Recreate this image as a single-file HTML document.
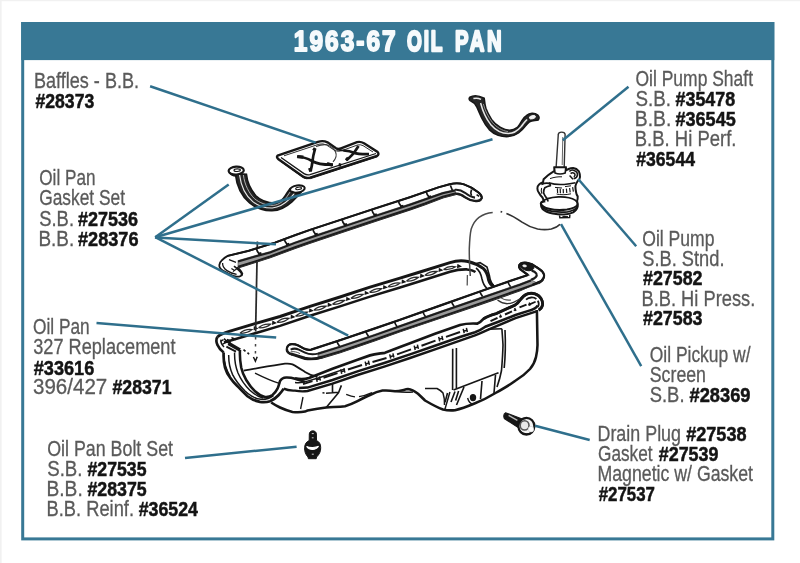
<!DOCTYPE html>
<html lang="en"><head><meta charset="utf-8"><title>1963-67 Oil Pan</title>
<style>
html,body{margin:0;padding:0;background:#fff;}
body{width:800px;height:563px;overflow:hidden;}
svg{display:block;filter:blur(0.55px);}
text{font-family:"Liberation Sans",Arial,sans-serif;}
.r{font-size:21.4px;fill:#5a5a5a;stroke:#5a5a5a;stroke-width:0.3px;}
.b{font-size:20.4px;fill:#141414;font-weight:bold;stroke:#141414;stroke-width:0.5px;}
.t{font-size:29.8px;font-weight:bold;fill:#f6fafc;stroke:#f6fafc;stroke-width:1.7px;stroke-linejoin:round;vector-effect:non-scaling-stroke;}
.ld{stroke:#2f6f8c;stroke-width:2.5;stroke-linecap:butt;fill:none;}
</style></head><body>
<svg width="800" height="563" viewBox="0 0 800 563">
<rect width="800" height="563" fill="#fff"/>
<rect x="0" y="0" width="800" height="1.2" fill="#f1f1f1"/><rect x="0" y="0" width="1.6" height="563" fill="#f1f1f1"/>
<rect x="22.7" y="23.5" width="750.1" height="515.4" fill="#fff" stroke="#387895" stroke-width="3.0"/>
<rect x="21.2" y="22" width="753.1" height="38.1" fill="#387895"/>
<text class="t" style="stroke-width:1.7px" transform="translate(293.80,51.2) scale(0.820,1)" x="0" y="0" textLength="124.15" lengthAdjust="spacing">1963-67</text>
<text class="t" style="stroke-width:2.1px" transform="translate(407.00,51.2) scale(0.640,1)" x="0" y="0" textLength="55.31" lengthAdjust="spacing">OIL</text>
<text class="t" style="stroke-width:2.0px" transform="translate(455.00,51.2) scale(0.680,1)" x="0" y="0" textLength="68.53" lengthAdjust="spacing">PAN</text>
<path d="M277.5,155.7 L318,141.8 Q323,140.3 327.5,142.3 L336,148.3 Q338.5,149.5 341,148.3 L357,142.2 Q360.5,141.3 364,143.3 L377.6,152 Q379.6,154.3 377,156 L310,177.6 Q305.5,178.6 302.5,176.2 L278.2,159 Q276.3,157 277.5,155.7 Z" fill="#fff" stroke="#161616" stroke-width="2.4" />
<path d="M281,157.5 L304,173.6 Q306.5,175.3 310,174.6 L376,153.5" fill="none" stroke="#161616" stroke-width="1.3" />
<path d="M284,155.8 L319,144.2 Q323,143.2 326.5,145 L335,150.6 Q338.5,152 342,150.6 L357.5,145 Q360.5,144.3 363,145.6 L373,152" fill="none" stroke="#161616" stroke-width="0.9" />
<path d="M297,156.5 Q305,157 312,161 T333,164.7 M315,149 Q313,156 312.5,161 T310.5,171.5" fill="none" stroke="#161616" stroke-width="2.7" />
<path d="M343.5,150.5 Q350,151 354,152.7 T369,154.2 M358.5,146 Q356,150 354,152.7 T346.5,160.2" fill="none" stroke="#161616" stroke-width="2.7" />
<path d="M297.4,156.6 l6,0.6 M327,163.6 l5.6,1.6 M309.6,168 l1.2,3.6 M346,158 l2,2 M338.6,164.6 l2.6,0.6 M313.6,150.6 l1.6,-2.6" fill="none" stroke="#161616" stroke-width="3.2" />
<path d="M316,146.6 C320,145 324,144.2 327,144.8 C331,146 334,149 335.6,152 C336.8,155 336,158.6 333,161.8" fill="none" stroke="#333" stroke-width="1.1" />
<path d="M337,149.6 L344,150.6" fill="none" stroke="#161616" stroke-width="1.6" />
<path d="M279.6,160.6 L303,177.4 Q306,179.4 310.6,178.6 L377.4,156.8" fill="none" stroke="#161616" stroke-width="1.0" />
<path d="M235.3,173.6 C236.6,186 242,196.4 249.6,203 C256.6,208.8 264.6,211 272,210.8 C279.4,210.4 286.4,206.8 291.9,201.8 C295.4,198.6 298.6,195 301,192.2 L290.4,188.3 C288.8,189.8 287.4,192.2 285.6,195.2 C283.2,199.2 279.6,202.6 274.9,203.1 C267.4,203 260.4,200.2 255.9,195.8 C250.8,190 247.2,182 246.4,174.2 Z" fill="#262626" stroke="#161616" stroke-width="1.6" />
<path d="M239.6,175 C241,186.4 246,196 252.8,201.6 C259,206.4 266,208.2 272.4,208 C279,207.4 284.6,204 289.4,199.2 C292,196.4 294.4,193.6 296,191" fill="none" stroke="#eaeaea" stroke-width="1.2" />
<path d="M243.4,175 C244.6,184.6 248.8,193 254.4,198.6 C259.6,203 266.4,205.4 273.2,205.4 C279,204.8 283.4,201.2 286.8,196.8 C288.6,194.2 290.2,191.8 291.6,190" fill="none" stroke="#d0d0d0" stroke-width="0.8" />
<ellipse cx="236.2" cy="170.6" rx="7.6" ry="3.9" fill="#fff" stroke="#161616" stroke-width="2.2" transform="rotate(-3 236.2 170.6)"/>
<ellipse cx="237.2" cy="170.2" rx="3.2" ry="1.3" fill="#fff" stroke="#161616" stroke-width="1.1" transform="rotate(-3 237.2 170.2)"/>
<path d="M229.4,172.6 C231,175 234,176 237,175.8" fill="none" stroke="#161616" stroke-width="1.8" />
<ellipse cx="297.4" cy="189.0" rx="7.4" ry="3.5" fill="#fff" stroke="#161616" stroke-width="2.0" transform="rotate(-8 297.4 189.0)"/>
<ellipse cx="298.6" cy="188.4" rx="3.0" ry="1.2" fill="#fff" stroke="#161616" stroke-width="1.0" transform="rotate(-8 298.6 188.4)"/>
<path d="M291.4,191 C293.4,192.8 296.4,193.4 299.4,193" fill="none" stroke="#161616" stroke-width="1.6" />
<path d="M469.8,97.2 C473,95.4 479,95.6 484.2,98.2 C484.6,102 485,105 485.9,108.2 C487.4,112.4 489.4,116 491.5,119.5 C494,123 497,125.6 500.5,127.4 C503.4,129 506.4,130 509.5,130.2 C512.4,130.2 515,129.2 517.4,127.4 C519.2,125.4 520.6,123 521.9,120.6 C523.2,118.4 524.6,116.6 526.4,115.6 C528,114.2 530,113.4 532,113.3 C534.6,113.2 536.6,114 537.8,115 C539.2,116.6 539.4,118.6 538.2,120 C536,120.6 532,120.8 529.7,121.7 C528,123 526.6,124.6 525.2,126.2 C523.2,128.8 521,131 518.5,133 C515.4,135.2 512,136.4 508.4,136.6 C505,136.8 501.4,136.4 498.2,135.4 C494.6,134 491.6,132 489.2,129.6 C486.4,126.6 484.2,123 482.5,119.5 C480.4,115.4 478.6,111 476.9,107.1 C475.2,104 473,101.8 470.1,100.6 C469,99.6 469,98.2 469.8,97.2 Z" fill="#262626" stroke="#161616" stroke-width="1.5" />
<path d="M473.4,98.6 C476,98 479,98.4 481,99.4 M480.6,103 C482.6,110.6 486,118.6 490.6,124.4 C495,129.6 501.6,133.4 508.4,133.6 C513.4,133.4 517.6,130.8 520.8,127 C522.8,124.4 524.6,121.6 527,119.6" fill="none" stroke="#e8e8e8" stroke-width="1.5" />
<path d="M483.4,104 C485,110.6 488.6,117.6 492.6,122.6 C496.4,127 502,130.8 508,131.6" fill="none" stroke="#999" stroke-width="0.9" />
<ellipse cx="532.4" cy="117.2" rx="3.2" ry="1.6" fill="#f4f4f4" stroke="#f4f4f4" stroke-width="0.8" transform="rotate(-15 532.4 117.2)"/>
<path d="M524.6,122.6 l2.4,-3 M521.6,126.8 l1.6,-2" fill="none" stroke="#ddd" stroke-width="0.9" />
<path d="M217.5,337 C220,334.5 224,333 230,331.2 L255,323.7 L280,316.5 L310,306.3 L340,297 L370,287.2 L400,278.2 L420,272 L450,262.6 C455,261 462,260.3 468,261.5 C474,263 480,266 483.5,268.6 C486.5,271.5 487.8,275 488.6,280 C489.5,283 491,285 493.5,286" fill="none" stroke="#161616" stroke-width="2.97" />
<path d="M224,342.6 L240,337.8 L261.2,331.4 L280,325.9 L310,315.7 L340,306.4 L370,296.6 L400,287.6 L420,281.2 L450,271.8 C456,270 462,269.2 467,269.4 C471,269.8 473.5,270.6 475.5,272" fill="none" stroke="#161616" stroke-width="2.56" />
<path d="M240.0,333.2 Q245.0,328.8 252.0,329.6 Q247.0,333.8 240.0,333.2" fill="none" stroke="#2a2a2a" stroke-width="1.28" />
<path d="M254.4,327.0 l2.6,1.4 l-2.8,1.0 Z" fill="#161616" stroke="#161616" stroke-width="1.22" />
<path d="M258.5,327.7 Q263.5,323.3 270.5,324.2 Q265.5,328.3 258.5,327.7" fill="none" stroke="#2a2a2a" stroke-width="1.28" />
<path d="M272.9,321.6 l2.6,1.4 l-2.8,1.0 Z" fill="#161616" stroke="#161616" stroke-width="1.22" />
<path d="M277.0,322.3 Q282.0,317.7 289.0,318.3 Q284.0,322.7 277.0,322.3" fill="none" stroke="#2a2a2a" stroke-width="1.28" />
<path d="M291.4,315.6 l2.6,1.4 l-2.8,1.0 Z" fill="#161616" stroke="#161616" stroke-width="1.22" />
<path d="M295.5,316.1 Q300.5,311.5 307.5,312.1 Q302.5,316.5 295.5,316.1" fill="none" stroke="#2a2a2a" stroke-width="1.28" />
<path d="M309.9,309.3 l2.6,1.4 l-2.8,1.0 Z" fill="#161616" stroke="#161616" stroke-width="1.22" />
<path d="M314.0,310.0 Q319.0,305.5 326.0,306.2 Q321.0,310.5 314.0,310.0" fill="none" stroke="#2a2a2a" stroke-width="1.28" />
<path d="M328.4,303.6 l2.6,1.4 l-2.8,1.0 Z" fill="#161616" stroke="#161616" stroke-width="1.22" />
<path d="M332.5,304.2 Q337.5,299.7 344.5,300.4 Q339.5,304.7 332.5,304.2" fill="none" stroke="#2a2a2a" stroke-width="1.28" />
<path d="M346.9,297.7 l2.6,1.4 l-2.8,1.0 Z" fill="#161616" stroke="#161616" stroke-width="1.22" />
<path d="M351.0,298.3 Q356.0,293.7 363.0,294.4 Q358.0,298.7 351.0,298.3" fill="none" stroke="#2a2a2a" stroke-width="1.28" />
<path d="M365.4,291.7 l2.6,1.4 l-2.8,1.0 Z" fill="#161616" stroke="#161616" stroke-width="1.22" />
<path d="M369.5,292.3 Q374.5,287.9 381.5,288.7 Q376.5,292.9 369.5,292.3" fill="none" stroke="#2a2a2a" stroke-width="1.28" />
<path d="M383.9,286.0 l2.6,1.4 l-2.8,1.0 Z" fill="#161616" stroke="#161616" stroke-width="1.22" />
<path d="M388.0,286.7 Q393.0,282.3 400.0,283.1 Q395.0,287.3 388.0,286.7" fill="none" stroke="#2a2a2a" stroke-width="1.28" />
<path d="M402.4,280.4 l2.6,1.4 l-2.8,1.0 Z" fill="#161616" stroke="#161616" stroke-width="1.22" />
<path d="M406.5,281.1 Q411.5,276.6 418.5,277.3 Q413.5,281.6 406.5,281.1" fill="none" stroke="#2a2a2a" stroke-width="1.28" />
<path d="M420.9,274.6 l2.6,1.4 l-2.8,1.0 Z" fill="#161616" stroke="#161616" stroke-width="1.22" />
<path d="M425.0,275.2 Q430.0,270.8 437.0,271.5 Q432.0,275.8 425.0,275.2" fill="none" stroke="#2a2a2a" stroke-width="1.28" />
<path d="M439.4,268.8 l2.6,1.4 l-2.8,1.0 Z" fill="#161616" stroke="#161616" stroke-width="1.22" />
<path d="M443.5,269.4 Q448.5,265.5 455.5,266.8 Q450.5,270.5 443.5,269.4" fill="none" stroke="#2a2a2a" stroke-width="1.28" />
<path d="M457.9,264.9 l2.6,1.4 l-2.8,1.0 Z" fill="#161616" stroke="#161616" stroke-width="1.22" />
<path d="M474,264 L480,262.6 L487,267 L489.5,276 C490,281 492,284.6 496,288 M476,268 C479,270 481,274 482,279 C483,283.4 484.6,286.4 487,288.4" fill="none" stroke="#161616" stroke-width="1.62" />
<path d="M217.5,337 C215.6,339 216.4,343 217.5,345 C219,348.4 221,350.6 223.7,352.5" fill="none" stroke="#161616" stroke-width="2.7" />
<path d="M221,339.6 C220.6,342 222,345 224,347 M224,338.6 L229,343.4 M226,340.5 l4.6,2.4 M232,338.5 l4,1" fill="none" stroke="#161616" stroke-width="1.49" />
<path d="M228.4,343.4 L240,350" fill="none" stroke="#161616" stroke-width="3.51" />
<path d="M226.4,346.6 L236,351.6" fill="none" stroke="#161616" stroke-width="1.89" />
<path d="M220.5,341.4 l3,-1.8 M222.4,344.4 l3.4,-2.2 M227,339.4 l3.6,1.4 M231.4,337.6 l3,1" fill="none" stroke="#161616" stroke-width="1.35" />
<path d="M223.7,352.5 C223.2,358 224,363 225,367.5 C226.4,372 228,375 230,377.5 C232,380.5 234.6,383.4 237.5,386.2 C240.6,389.6 244,393 247.5,396.2 C251,399 255,401 260,401.9 C263.6,402.4 267,402.2 270,401.2 C273.4,399.8 276.4,397.6 278.7,395 C280.6,393 282.4,391 283.7,388.7" fill="none" stroke="#161616" stroke-width="2.7" />
<path d="M240,350 C239.6,356 240.2,362 241.2,367.5 C242.2,372 243.8,376 246.2,380 C248.6,384 251.4,388 255,391.2 C258,394 261.4,396.2 265,396.9 C267.8,397.2 270.4,396.4 272.5,395 C274.6,393.4 276.2,391.2 277.5,388.7 C278.6,386.4 279.2,383.8 280,381.2 C281.4,378.6 283.6,377.6 286.2,377.5 C289.4,377.4 292.4,377.9 295,378.7 L305,381.9" fill="none" stroke="#161616" stroke-width="2.56" />
<path d="M228.7,355 C228.6,362 230,369 232.6,374.6 C235.6,380.6 240,386 245,391 C249.6,395.4 255,398.6 261,399.3 C266,399.6 270,398.2 273.4,395.6" fill="none" stroke="#161616" stroke-width="1.49" />
<path d="M234.6,352.6 C234.4,360 235.6,367 238,373 C240.6,379 244.6,385 249.6,390 C253.6,393.8 258,396.8 263,398" fill="none" stroke="#161616" stroke-width="1.49" />
<path d="M223.7,355 C224,361 226,369 230,376.2" fill="none" stroke="#161616" stroke-width="1.35" />
<path d="M243.7,370.6 C256,368.6 272,365.6 285,363.7 C288,363.4 290.4,363.6 292.5,364.4 C297,366.6 301,369.4 305,372 C309,374.6 313.4,376.2 317.5,376.6" fill="none" stroke="#161616" stroke-width="1.76" />
<path d="M255,373.1 C262,376.6 270,380.4 280,383.7" fill="none" stroke="#161616" stroke-width="1.35" />
<path d="M257.4,241.5 L255.6,331.5" fill="none" stroke="#2a2a2a" stroke-width="1.76" />
<path d="M255.6,337 L255.4,357" fill="none" stroke="#444" stroke-width="1.49" stroke-dasharray="2.6 4.4"/>
<path d="M253.4,357 L255.4,361.2 L257.2,356.8" fill="none" stroke="#161616" stroke-width="1.49" />
<path d="M243.5,349.6 l2,1.8 M247.5,352.6 l1.6,1.6" fill="none" stroke="#161616" stroke-width="1.62" />
<path d="M295,378.4 C300,379.6 305,379.4 309,378 L332.5,368.7 L357.5,359.8 L370,355.4 C375,353.8 380,353.6 385,352.8 L400,347 L410,343.2 L435,333.7 L460,325 C465,323.6 470,323.2 477.5,323.6 C480,322.6 482,320.6 483.7,318.7 C487,316.2 491,315 496.2,313.5 L515,305 C517.4,303.6 518.8,301.8 520,300 C522,297 524.4,294.8 527.5,293.7 C530,293 532.6,293 535,293.7 C538,294.8 540.2,296.6 541.2,298.7 C542.4,300.8 542.8,303 542.5,305 C542,307.4 540.6,309 538.7,310" fill="none" stroke="#161616" stroke-width="2.7" />
<path d="M483.7,318.9 C487,316.4 491,315.2 496.2,313.7 L515,305.2 C517.4,303.8 518.8,302 520,300.2 C522,297.2 524.4,295 527.5,293.9 C530,293.2 532.6,293.2 535,293.9 C538,295 540.2,296.8 541.2,298.9 C542.4,301 542.8,303.2 542.5,305.2 C542,307.6 540.6,309.2 538.7,310.2" fill="none" stroke="#161616" stroke-width="2.7" />
<path d="M283.7,388.7 C287,390.4 291,390.8 295,390.6 C299,391.4 303.5,391.6 307.5,391 L332.5,383.7 L357.5,375 L385,366.4 L410,358 L435,349.4 L460,340.6 L475,335.4 C480,333.6 484.6,331.4 488.9,329.4 L515.5,318.1 L536.4,311.4" fill="none" stroke="#161616" stroke-width="2.43" />
<path d="M295,382.5 C299,383 304,382.4 307.5,381.2 L320,377.5 L345,368.8" fill="none" stroke="#161616" stroke-width="1.35" />
<path d="M299,388 L307.5,387.6 L332.5,380 L357.5,371.4 L385,362.8 L410,354.4 L435,345.8 L460,337 L475,332.2 C479,330.8 482.4,328.8 485.3,326.7 L497.8,322 L515.5,315 L530,310.4 C534,309.4 536.6,308 537.6,305.6" fill="none" stroke="#161616" stroke-width="2.56" />
<path d="M316.2,377.4 l1.0,4.4 M319.4,376.4 l1.0,4.2 M316.8,379.8 l3.0,-1.0" fill="none" stroke="#161616" stroke-width="1.49" />
<path d="M323.5,377.7 L337.5,373.1" fill="none" stroke="#161616" stroke-width="2.03" />
<path d="M340.7,369.4 l1.0,4.4 M343.9,368.4 l1.0,4.2 M341.3,371.8 l3.0,-1.0" fill="none" stroke="#161616" stroke-width="1.49" />
<path d="M348.0,369.5 L362.0,365.0" fill="none" stroke="#161616" stroke-width="2.03" />
<path d="M365.2,361.6 l1.0,4.4 M368.4,360.6 l1.0,4.2 M365.8,364.0 l3.0,-1.0" fill="none" stroke="#161616" stroke-width="1.49" />
<path d="M372.5,362.1 L386.5,358.1" fill="none" stroke="#161616" stroke-width="2.03" />
<path d="M389.7,354.3 l1.0,4.4 M392.9,353.3 l1.0,4.2 M390.3,356.7 l3.0,-1.0" fill="none" stroke="#161616" stroke-width="1.49" />
<path d="M397.0,354.4 L411.0,349.4" fill="none" stroke="#161616" stroke-width="2.03" />
<path d="M414.2,345.6 l1.0,4.4 M417.4,344.6 l1.0,4.2 M414.8,348.0 l3.0,-1.0" fill="none" stroke="#161616" stroke-width="1.49" />
<path d="M421.5,345.7 L435.5,340.6" fill="none" stroke="#161616" stroke-width="2.03" />
<path d="M438.7,336.9 l1.0,4.4 M441.9,335.9 l1.0,4.2 M439.3,339.3 l3.0,-1.0" fill="none" stroke="#161616" stroke-width="1.49" />
<path d="M446.0,336.9 L460.0,332.0" fill="none" stroke="#161616" stroke-width="2.03" />
<path d="M463.2,328.8 l1.0,4.4 M466.4,327.8 l1.0,4.2 M463.8,331.2 l3.0,-1.0" fill="none" stroke="#161616" stroke-width="1.49" />
<path d="M303,384.2 L312.5,381.2" fill="none" stroke="#161616" stroke-width="1.89" />
<path d="M490.5,321.1 L497.5,317.9" fill="none" stroke="#161616" stroke-width="2.03" />
<path d="M500.1,314.6 l1.4,2.8 M499.3,317.2 l2.2,-1.4" fill="none" stroke="#161616" stroke-width="1.49" />
<path d="M505.0,314.5 L512.0,311.4" fill="none" stroke="#161616" stroke-width="2.03" />
<path d="M514.6,308.0 l1.4,2.8 M513.8,310.6 l2.2,-1.4" fill="none" stroke="#161616" stroke-width="1.49" />
<path d="M519.5,307.4 L526.5,304.6" fill="none" stroke="#161616" stroke-width="2.03" />
<path d="M529.1,302.6 l1.4,2.8 M528.3,305.2 l2.2,-1.4" fill="none" stroke="#161616" stroke-width="1.49" />
<path d="M526,299.6 C529,297 533.6,296.8 536.4,299 M529,304.6 L535.6,301.8 M537.8,300.6 C539,302.6 539,305 537.8,307" fill="none" stroke="#161616" stroke-width="1.76" />
<path d="M497.5,300 C501,302.6 504,303.8 507.5,303.7 C512,303.4 516,301.4 520,298.7" fill="none" stroke="#333" stroke-width="1.35" />
<path d="M499,296.6 C503,299.6 507,300.6 511,300" fill="none" stroke="#555" stroke-width="1.08" />
<path d="M332.5,384 L332.5,392.5 M326,393.2 L338.7,392.2 L341.4,385.4 M338.7,392.5 L326.2,407.5" fill="none" stroke="#161616" stroke-width="1.62" />
<path d="M322.5,392.8 l2,0.2" fill="none" stroke="#161616" stroke-width="1.62" />
<path d="M271.2,402.5 C274,404.4 277,406 280,407.5 C284,409.4 288,410.8 292.5,411.9 C297,412.6 301,412.4 305,411.6 L307.5,410.6 C313,409.6 320,408.4 326.2,407.5 C333,407 339,406.8 345,406.2 C349.6,405 353.6,403.2 357.5,401.2 C361.6,399 365.6,396.8 370,395 C374,393 378,391.4 382.5,390.6 C387,390.2 391,390.6 395,391.2 C400,391.2 404,389.6 408,389 C412,389.4 415,391.4 418,393.7 C421,396.4 423,398.6 425,400.5 C431,404 437,407.4 443,409.5 C447,410.4 451,410.6 455,410.2 C462,408.6 468,406.2 474.5,403.5 C482,400.6 489,397 495.5,393 C502,389.4 509,385.4 515,381 C521,377.4 526,373.4 530,369 C533,365.4 535,361.4 536,357 C537,353 537.4,349 537.5,345 L536.9,310" fill="none" stroke="#161616" stroke-width="2.56" />
<path d="M303,397 L300.6,409" fill="none" stroke="#161616" stroke-width="1.35" />
<path d="M346.2,394.4 C350,396 353,396.8 355,396.9 M359,396.6 C364,396 368,394.4 372,392.6" fill="none" stroke="#161616" stroke-width="1.35" />
<path d="M395,391.2 C401,392.4 407,392.6 413,392 M425,388.5 L437,388.5 C440,390 442,391.6 443,393 C444.4,397 444.6,401 444.5,405" fill="none" stroke="#161616" stroke-width="1.49" />
<path d="M452.7,348.7 L452.6,390 M456.4,348 L456.4,388.6" fill="none" stroke="#161616" stroke-width="1.62" />
<path d="M501.9,328.7 C502.4,336 502.8,341 503,345 C502.8,354 502.2,362 501.5,370.5 C500.4,376.4 498.8,382 497,387 M505,330 C505.6,342 505.4,356 504.2,368" fill="none" stroke="#161616" stroke-width="1.62" />
<path d="M453.5,390 L498.5,372.7" fill="none" stroke="#161616" stroke-width="1.76" />
<path d="M488,329.2 L501.9,328.7" fill="none" stroke="#161616" stroke-width="1.62" />
<path d="M464,387 L456.5,405 M482,381 L480.5,399 M495.5,375 L494,393 M447.5,393 L445,402.4 M455,391.5 L451,402 M458.6,391 l-3,9.4" fill="none" stroke="#161616" stroke-width="1.62" />
<path d="M449.9,392 L444.9,409.4" fill="none" stroke="#161616" stroke-width="1.49" />
<ellipse cx="473" cy="397.6" rx="2.4" ry="2.8" fill="#161616" stroke="#161616" stroke-width="1.62"/>
<path d="M467.6,398 C468.6,402 471,404.2 474,404.4" fill="none" stroke="#161616" stroke-width="1.35" />
<path d="M227.7,255.9 L248.7,250.8 L275.0,242.6 L295.0,235.2 L310.0,229.9 L345.0,218.4 L375.0,208.5 L410.0,197.2 L438.3,187.4 L449.8,184.2 C455,183 460,183.2 464,184.4 C469,186 474,189 478.2,192.2 C481,194.4 482.2,196.6 481.6,198.6 C480.6,200.8 478,201.6 474.7,201.1 C471,200.6 468,199.4 465,197.4 C462,195.2 459,194 456.1,194.2 L442.7,197.7 L425,204.4 L410,209.6 L375,221.2 L345,231.2 L310,242.9 L295,248.2 L270,257.4 L256,262 L238,267.6 C240,270 242,272 242.4,273.6 C242.4,275.6 240,276.8 236.6,276.7 C233,276 230,274.6 227.7,273.2 C224.6,271.6 222.4,270.6 221.5,269.6 C219.6,268 219,266.6 219.3,265.2 C219.6,263 220.4,261.6 221.5,260.7 C223.4,258.6 225.4,257 227.7,255.9 Z" fill="#fff" stroke="#161616" stroke-width="1.8" />
<path d="M227.7,255.9 L248.7,250.8 L275.0,242.6 L295.0,235.2 L310.0,229.9 L345.0,218.4 L375.0,208.5 L410.0,197.2 L438.3,187.4 L449.8,184.2 C455,183 460,183.2 464,184.4 C469,186 474,189 478.2,192.2 C481,194.4 482.2,196.6 481.6,198.6" fill="none" stroke="#161616" stroke-width="2.0" />
<path d="M238.0,260.6 L256.0,255.4 L270.0,251.6 L295.0,242.0 L310.0,236.8 L345.0,225.2 L375.0,215.2 L410.0,203.8 L425.0,198.6 L442.7,192.4 L455.0,189.6 L456.1,194.2 L442.7,197.7 L425.0,204.4 L410.0,209.6 L375.0,221.2 L345.0,231.2 L310.0,242.9 L295.0,248.2 L270.0,257.4 L256.0,262.0 L238.0,267.6 Z" fill="#9a9a9a" stroke="#555" stroke-width="0.6" />
<path d="M238.0,261.5 L256.0,256.3 L270.0,252.5 L295.0,242.9 L310.0,237.7 L345.0,226.1 L375.0,216.1 L410.0,204.7 L425.0,199.5 L442.7,193.3 L455.0,190.5" fill="none" stroke="#1c1c1c" stroke-width="2.0" />
<path d="M238.0,266.7 L256.0,261.1 L270.0,256.5 L295.0,247.3 L310.0,242.0 L345.0,230.3 L375.0,220.3 L410.0,208.7 L425.0,203.5 L442.7,196.8 L456.1,193.3" fill="none" stroke="#1c1c1c" stroke-width="2.0" />
<path d="M455,189.8 C459,189.4 462,190.6 465,192.8 C468,195.2 471.6,197.2 475,197.6 M456.1,193.6 C459,193.4 462,194.8 465,197 C468,199.2 471,200.4 474.7,200.7 C478,201.2 480.6,200.4 481.4,198.4" fill="none" stroke="#1c1c1c" stroke-width="2.1" />
<path d="M450.4,185.4 L452.4,190.4 M471.6,189.6 C470.6,192 470.6,194 471.6,195.6 M476.6,194.6 l2.6,1.8" fill="none" stroke="#161616" stroke-width="1.6" />
<path d="M256.2,248.0 C256.6,250.5 258.0,252.5 259.8,254.6" fill="none" stroke="#161616" stroke-width="1.7" />
<path d="M258.2,254.0 l3.2,-0.9" fill="none" stroke="#161616" stroke-width="2.2" />
<path d="M284.1,238.7 C284.5,241.2 285.9,243.2 287.7,245.3" fill="none" stroke="#161616" stroke-width="1.7" />
<path d="M286.1,244.7 l3.2,-0.9" fill="none" stroke="#161616" stroke-width="2.2" />
<path d="M312.6,228.6 C313.0,231.1 314.4,233.1 316.2,235.2" fill="none" stroke="#161616" stroke-width="1.7" />
<path d="M314.6,234.6 l3.2,-0.9" fill="none" stroke="#161616" stroke-width="2.2" />
<path d="M341.8,219.0 C342.2,221.5 343.6,223.5 345.4,225.6" fill="none" stroke="#161616" stroke-width="1.7" />
<path d="M343.8,225.0 l3.2,-0.9" fill="none" stroke="#161616" stroke-width="2.2" />
<path d="M371.6,209.2 C372.0,211.7 373.4,213.7 375.2,215.8" fill="none" stroke="#161616" stroke-width="1.7" />
<path d="M373.6,215.2 l3.2,-0.9" fill="none" stroke="#161616" stroke-width="2.2" />
<path d="M398.2,200.6 C398.6,203.1 400.0,205.1 401.8,207.2" fill="none" stroke="#161616" stroke-width="1.7" />
<path d="M400.2,206.6 l3.2,-0.9" fill="none" stroke="#161616" stroke-width="2.2" />
<path d="M426.0,191.2 C426.4,193.7 427.8,195.7 429.6,197.8" fill="none" stroke="#161616" stroke-width="1.7" />
<path d="M428.0,197.2 l3.2,-0.9" fill="none" stroke="#161616" stroke-width="2.2" />
<path d="M234,266.1 C236,267.6 238.4,269.6 240,271.4 C241.6,273 242.2,274.6 241.4,275.8" fill="none" stroke="#161616" stroke-width="1.8" />
<path d="M222.6,263 C222.4,266 224,268.6 227,270.6 C230,272.6 233.4,274 236.6,274.4" fill="none" stroke="#161616" stroke-width="1.3" />
<path d="M229,259.6 L236,262.4 M231.4,268.4 l3.2,2.2 M233,271.6 l4.4,-3.4" fill="none" stroke="#161616" stroke-width="1.2" />
<path d="M286.9,348.2 C287.6,345.4 289.6,344.2 292,344.2 C294.4,344.2 296.6,344.8 298.4,345.6 L304,348.6 C306.4,349.8 308.8,350 311.2,349.6 L340.0,340.2 L375.0,328.4 L400.0,319.8 L440.0,305.6 L480.0,291.5 L512.0,280.3 L528.0,275.0 L522,270.6 C518.6,268.4 518,265.4 520.6,263.6 C523,262.4 526,262.6 527.3,262.9 C531,263.6 534,265.2 536.3,267 C539.6,269.2 541.6,270.6 542.3,271.5 C544,273.4 544.4,275.6 543.8,277.4 C543.2,279.6 541.8,280.8 540.8,281.3 L532.5,284.8 L520,290.4 L480,304.3 L440,318 L400,331.5 L375,340.4 L340,352.4 L322.5,357.6 C316,359.4 310,359.8 305,359 L292.4,354.8 C288.4,353.4 286.2,351 286.9,348.2 Z" fill="#fff" stroke="#161616" stroke-width="1.8" />
<path d="M286.9,348.2 C287.6,345.4 289.6,344.2 292,344.2 C294.4,344.2 296.6,344.8 298.4,345.6 L304,348.6 C306.4,349.8 308.8,350 311.2,349.6 L340.0,340.2 L375.0,328.4 L400.0,319.8 L440.0,305.6 L480.0,291.5 L512.0,280.3 L528.0,275.0" fill="none" stroke="#161616" stroke-width="2.2" />
<path d="M318.0,352.8 L340.0,346.0 L375.0,334.2 L400.0,325.4 L440.0,311.4 L480.0,297.6 L520.0,283.8 L531.0,279.6 L538.5,283.8 L520.0,290.4 L480.0,304.3 L440.0,318.0 L400.0,331.5 L375.0,340.4 L340.0,352.4 L318.0,358.8 Z" fill="#9a9a9a" stroke="#555" stroke-width="0.6" />
<path d="M318.0,353.7 L340.0,346.9 L375.0,335.1 L400.0,326.3 L440.0,312.3 L480.0,298.5 L520.0,284.7 L531.0,280.5" fill="none" stroke="#1c1c1c" stroke-width="2.0" />
<path d="M318.0,357.9 L340.0,351.5 L375.0,339.5 L400.0,330.6 L440.0,317.1 L480.0,303.4 L520.0,289.5 L538.5,282.9" fill="none" stroke="#1c1c1c" stroke-width="2.0" />
<path d="M290.6,349.6 C293.4,348.2 296.6,348.6 298.8,349.6 L305,352.6 C309,354.6 314,354.6 318,353.6" fill="none" stroke="#1c1c1c" stroke-width="2.0" />
<path d="M291,353.6 L305,358 C310,359 316,358.8 322.5,357" fill="none" stroke="#1c1c1c" stroke-width="2.4" />
<path d="M287,348.4 C286.4,351 288.4,353.2 292.4,354.6" fill="none" stroke="#1c1c1c" stroke-width="2.4" />
<path d="M290.6,351.8 C294,351.2 297,352 300,353.6" fill="none" stroke="#555" stroke-width="1.0" />
<path d="M528,275 L522,270.6 C518.6,268.4 518,265.4 520.6,263.6 C523,262.4 526,262.6 527.3,262.9 C531,263.6 534,265.2 536.3,267 C539.6,269.2 541.6,270.6 542.3,271.5 C544,273.4 544.4,275.6 543.8,277.4 C543.2,279.6 541.8,280.8 540.8,281.3 L532.5,284.8" fill="none" stroke="#161616" stroke-width="2.2" />
<path d="M519.6,265.6 C520.6,263.2 524,262.8 527.3,263.2 C530.4,263.8 533,265.4 534,267.2 C534,269.2 532,270.6 529,270.8 C525,270.6 521,269 519.6,265.6 Z" fill="#161616" stroke="#161616" stroke-width="1.0" />
<ellipse cx="524.6" cy="265.9" rx="2.0" ry="1.1" fill="#eee" stroke="#eee" stroke-width="0.5" transform="rotate(10 524.6 265.9)"/>
<path d="M531,279.8 C535.6,278 537.6,276 536.4,273.6 C535.4,272 533.6,271 531.6,270.6" fill="none" stroke="#1c1c1c" stroke-width="2.1" />
<path d="M538.5,283.2 C541,282 542.6,280.4 543.2,278" fill="none" stroke="#1c1c1c" stroke-width="2.1" />
<path d="M336.8,340.9 C337.2,342.9 338.2,344.5 339.6,346.3" fill="none" stroke="#161616" stroke-width="1.7" />
<path d="M365.8,331.1 C366.2,333.1 367.2,334.7 368.6,336.5" fill="none" stroke="#161616" stroke-width="1.7" />
<path d="M394.4,321.3 C394.8,323.3 395.8,324.9 397.2,326.7" fill="none" stroke="#161616" stroke-width="1.7" />
<path d="M422.8,311.3 C423.2,313.3 424.2,314.9 425.6,316.7" fill="none" stroke="#161616" stroke-width="1.7" />
<path d="M451.4,301.2 C451.8,303.2 452.8,304.8 454.2,306.6" fill="none" stroke="#161616" stroke-width="1.7" />
<path d="M479.8,291.1 C480.2,293.1 481.2,294.8 482.6,296.5" fill="none" stroke="#161616" stroke-width="1.7" />
<path d="M507.8,281.4 C508.2,283.4 509.2,285.0 510.6,286.8" fill="none" stroke="#161616" stroke-width="1.7" />
<path d="M470.3,276 C469.6,266 469.2,257 469.3,248.6 C469.6,241 470,234 471.2,229 C473,223.6 475.4,220 479,217.3 C483,214.6 487.4,213 492.7,212.5" fill="none" stroke="#4a4a4a" stroke-width="1.5" />
<path d="M500.6,211.6 l1.6,0.4 M506.4,213.4 C512,215.4 517,218.6 522,222.2 C527,225.6 532,227.8 537.6,229 C542.4,229.8 547,229.8 551.3,229 C555,228 558,226.4 560,224.2" fill="none" stroke="#333" stroke-width="1.6" />
<path d="M467.4,275 L467.2,285.5" fill="none" stroke="#555" stroke-width="1.3" />
<path d="M558.3,134.4 C558.4,131.4 564.9,131.4 565.1,134.4 L564.2,167.6 L556.1,167.6 Z" fill="#fff" stroke="#333" stroke-width="1.4" />
<path d="M562.8,137 L562.2,165" fill="none" stroke="#666" stroke-width="1.0" />
<path d="M554.4,170.8 C550,173.4 546.6,176.2 543.6,179.3 L543,182.2 C541.4,182.8 540,183.4 539.1,184.4 C537.8,185.6 537.2,187 537.4,188.4 C537.4,190.2 538,191.8 539.1,193 C540,194.8 541.2,196.2 542.5,197.5 L544.2,201.5 C542.4,201.8 541,202.2 540.8,203.2 C540.8,205.4 541.4,207.4 542.5,208.9 C545,211.2 548.6,212.6 552.7,213.4 C556.4,214.2 560.4,214.6 564.1,214.5 C567.6,214.2 570.6,213.4 573.2,212.3 C575.6,210.8 577.2,209 577.7,206.6 L577.7,204.3 L577.1,200.9 C577.6,199.4 577.8,198 577.7,196.4 C576.8,195 576.2,193.4 576,191.8 C575.6,189.8 575.4,188 575.4,186.1 C575.8,184.2 576.6,182.6 577.7,181 C579.2,179.8 580,178.4 580,177 C580,175 579.6,173 578.9,171.4 C577.4,169.4 575.4,168.2 573.2,168 C571.4,168 569.8,168.4 568.6,169 L565.8,170.4 L565.8,167.4 L554.4,167.4 Z" fill="#fff" stroke="#161616" stroke-width="2.0" />
<path d="M554.4,167.4 L565.8,167.4 L565.2,173 C562,174.2 558,174.2 555,173 Z" fill="#fff" stroke="#161616" stroke-width="1.6" />
<path d="M548.7,182.7 C553,184.2 558.6,184.8 564.1,184.4 C568.4,184 572,183.4 575.4,182.7" fill="none" stroke="#161616" stroke-width="1.5" />
<path d="M550,178.6 C554,177.2 558,176.6 562,176.8" fill="none" stroke="#161616" stroke-width="1.0" />
<path d="M541.4,184.4 C543.6,183.4 546.4,183 548.7,183.3 C550,184 550.6,184.8 550.4,185.6 C548.4,186 546.4,186.8 544.8,187.8 C543.8,189.4 543.4,191.2 543.6,193 C544.4,195.2 545.6,197 547,198.6 L548.2,201.5" fill="none" stroke="#161616" stroke-width="1.7" />
<path d="M541.6,188 C541,190 541.2,192 542,193.8" fill="none" stroke="#161616" stroke-width="1.1" />
<path d="M569.4,171.4 C570.4,170.2 572.4,169.8 574.2,170.4 C576.4,171.2 577.6,173 577.4,175 C577.2,177 575.6,178.4 573.6,178.6" fill="none" stroke="#161616" stroke-width="1.6" />
<path d="M570.6,173.6 C571.6,172.6 573.4,172.6 574.6,173.6 C575.4,174.8 575,176.2 573.8,176.8 M569.6,175.6 l3.4,3.6" fill="none" stroke="#161616" stroke-width="1.5" />
<path d="M557.4,188.4 l0.2,4.6 M560.2,188.8 l0.2,4.4 M563.2,189 l0.2,4.2 M566.4,188.6 l0.4,4.4 M569.6,188 l0.6,4.4 M572.6,187.2 l0.8,4.4" fill="none" stroke="#161616" stroke-width="1.2" />
<path d="M555,187.4 L562,188 M565,186.6 l6,-0.8 M556.6,194 C560,195 566,195 571,193.8" fill="none" stroke="#161616" stroke-width="1.0" />
<path d="M540.8,202.6 C543.6,199.8 550,197.4 558.4,196.9 C565.6,196.6 571.4,197.8 575.4,200.3 C577,201.6 577.8,203 577.7,204.3" fill="none" stroke="#161616" stroke-width="1.6" />
<path d="M540.8,203.2 C541.4,205.6 544.4,207.6 549,208.8 C554.4,210.2 561,210.4 567,209.6 C572.4,208.6 576.6,206.8 577.7,204.3" fill="none" stroke="#161616" stroke-width="2.0" />
<path d="M541.6,206 C543.4,208.6 547.6,210.6 552.7,211.4 C557.6,212.2 563,212.4 567.6,211.8 C572,211 575.6,209.4 577.4,207" fill="none" stroke="#161616" stroke-width="1.8" />
<path d="M559.5,215.4 L559.9,217.8 L569.6,217.6 L569.9,214.6" fill="none" stroke="#161616" stroke-width="1.5" />
<path d="M562.4,216.6 L568,216.4" fill="none" stroke="#161616" stroke-width="1.0" />
<path d="M309.3,434 C309.4,429.8 316.2,429.8 316.4,434 L316.5,440.6 C319.2,441.6 320.7,444 320.7,447.6 C320.9,451.4 319.2,454.6 316.6,457 L316.2,458.7 L308.4,458.7 L308,457 C305.6,454.6 304.4,451.4 304.6,447.6 C304.8,444 306.4,441.6 309.2,440.6 Z" fill="#161616" stroke="#161616" stroke-width="1.0" />
<path d="M306.6,446.4 C309.4,450.4 315.6,450.6 318.6,446.2 C316,447.8 309.6,448 306.6,446.4 Z" fill="#fff" stroke="#fff" stroke-width="1.1" />
<path d="M311.8,433.6 l2,0 M311.8,437.8 l1.8,0 M311.8,454.2 l2,0" fill="none" stroke="#ccc" stroke-width="1.0" />
<path d="M505.7,412.8 C504,413.6 503.4,416 504.4,418.6 L517.7,427.2 L521.6,418.8 Z" fill="#161616" stroke="#161616" stroke-width="1.2" />
<path d="M508.6,415.4 L517.4,420.4" fill="none" stroke="#bbb" stroke-width="1.3" />
<ellipse cx="526.4" cy="426.2" rx="8.0" ry="8.4" fill="#f4f4f4" stroke="#161616" stroke-width="2.2"/>
<ellipse cx="524.6" cy="425.4" rx="4.4" ry="4.6" fill="#e8e8e8" stroke="#555" stroke-width="1.6"/>
<path d="M519.4,422.6 C520.6,420 523,418.6 525.6,418.4 M520,431 C522.6,434.2 527.4,434.8 530.6,433.2" fill="none" stroke="#161616" stroke-width="1.6" />
<ellipse cx="531.0" cy="429.2" rx="2.8" ry="2.8" fill="#fff" stroke="#ccc" stroke-width="0.6"/>
<g class="ld">
<line x1="150.1" y1="86.2" x2="315.6" y2="142.6"/>
<line x1="155.2" y1="237.2" x2="228.7" y2="184.5"/>
<line x1="155.2" y1="237.2" x2="492.5" y2="139.2"/>
<line x1="155.2" y1="237.6" x2="276.0" y2="244.2"/>
<line x1="155.2" y1="237.2" x2="348.2" y2="335.6"/>
<line x1="96.5" y1="323.1" x2="276.2" y2="337.6"/>
<line x1="185.0" y1="458.0" x2="296.6" y2="446.7"/>
<line x1="628.5" y1="86.8" x2="562.8" y2="140.2"/>
<line x1="636.2" y1="246.2" x2="578.2" y2="179.0"/>
<line x1="641.2" y1="366.2" x2="561.0" y2="224.2"/>
<line x1="589.7" y1="440.0" x2="535.0" y2="425.7"/>
</g>
<text class="r" x="34.00" y="88.00" textLength="105.00" lengthAdjust="spacingAndGlyphs">Baffles - B.B.</text>
<text class="b" x="35.50" y="107.50" textLength="58.75" lengthAdjust="spacingAndGlyphs">#28373</text>
<text class="r" x="39.25" y="185.00" textLength="56.25" lengthAdjust="spacingAndGlyphs">Oil Pan</text>
<text class="r" x="39.25" y="205.00" textLength="85.75" lengthAdjust="spacingAndGlyphs">Gasket Set</text>
<text class="r" x="39.25" y="225.50" textLength="34.75" lengthAdjust="spacingAndGlyphs">S.B.</text>
<text class="b" x="78.00" y="225.50" textLength="60.00" lengthAdjust="spacingAndGlyphs">#27536</text>
<text class="r" x="38.50" y="245.50" textLength="35.75" lengthAdjust="spacingAndGlyphs">B.B.</text>
<text class="b" x="78.00" y="245.50" textLength="60.50" lengthAdjust="spacingAndGlyphs">#28376</text>
<text class="r" x="33.00" y="333.75" textLength="56.75" lengthAdjust="spacingAndGlyphs">Oil Pan</text>
<text class="r" x="33.25" y="353.75" textLength="142.25" lengthAdjust="spacingAndGlyphs">327 Replacement</text>
<text class="b" x="33.75" y="374.50" textLength="60.50" lengthAdjust="spacingAndGlyphs">#33616</text>
<text class="r" x="33.00" y="393.75" textLength="74.25" lengthAdjust="spacingAndGlyphs">396/427</text>
<text class="b" x="112.50" y="393.75" textLength="59.00" lengthAdjust="spacingAndGlyphs">#28371</text>
<text class="r" x="47.25" y="455.75" textLength="125.75" lengthAdjust="spacingAndGlyphs">Oil Pan Bolt Set</text>
<text class="r" x="47.25" y="475.75" textLength="35.25" lengthAdjust="spacingAndGlyphs">S.B.</text>
<text class="b" x="87.50" y="475.75" textLength="59.00" lengthAdjust="spacingAndGlyphs">#27535</text>
<text class="r" x="46.50" y="495.50" textLength="36.25" lengthAdjust="spacingAndGlyphs">B.B.</text>
<text class="b" x="87.50" y="495.50" textLength="59.25" lengthAdjust="spacingAndGlyphs">#28375</text>
<text class="r" x="46.50" y="515.50" textLength="87.50" lengthAdjust="spacingAndGlyphs">B.B. Reinf.</text>
<text class="b" x="138.75" y="515.50" textLength="59.25" lengthAdjust="spacingAndGlyphs">#36524</text>
<text class="r" x="635.50" y="85.50" textLength="117.50" lengthAdjust="spacingAndGlyphs">Oil Pump Shaft</text>
<text class="r" x="635.50" y="105.50" textLength="35.50" lengthAdjust="spacingAndGlyphs">S.B.</text>
<text class="b" x="675.50" y="105.50" textLength="59.75" lengthAdjust="spacingAndGlyphs">#35478</text>
<text class="r" x="634.75" y="125.50" textLength="36.50" lengthAdjust="spacingAndGlyphs">B.B.</text>
<text class="b" x="675.50" y="125.50" textLength="60.25" lengthAdjust="spacingAndGlyphs">#36545</text>
<text class="r" x="634.75" y="145.50" textLength="101.75" lengthAdjust="spacingAndGlyphs">B.B. Hi Perf.</text>
<text class="b" x="636.25" y="165.75" textLength="58.75" lengthAdjust="spacingAndGlyphs">#36544</text>
<text class="r" x="642.25" y="245.50" textLength="72.25" lengthAdjust="spacingAndGlyphs">Oil Pump</text>
<text class="r" x="642.25" y="265.50" textLength="82.25" lengthAdjust="spacingAndGlyphs">S.B. Stnd.</text>
<text class="b" x="643.00" y="285.00" textLength="59.50" lengthAdjust="spacingAndGlyphs">#27582</text>
<text class="r" x="641.50" y="305.50" textLength="113.75" lengthAdjust="spacingAndGlyphs">B.B. Hi Press.</text>
<text class="b" x="643.00" y="325.00" textLength="59.50" lengthAdjust="spacingAndGlyphs">#27583</text>
<text class="r" x="649.75" y="362.00" textLength="100.75" lengthAdjust="spacingAndGlyphs">Oil Pickup w/</text>
<text class="r" x="649.75" y="382.00" textLength="56.25" lengthAdjust="spacingAndGlyphs">Screen</text>
<text class="r" x="649.75" y="402.00" textLength="34.75" lengthAdjust="spacingAndGlyphs">S.B.</text>
<text class="b" x="689.50" y="402.00" textLength="61.00" lengthAdjust="spacingAndGlyphs">#28369</text>
<text class="r" x="597.50" y="441.25" textLength="83.50" lengthAdjust="spacingAndGlyphs">Drain Plug</text>
<text class="b" x="686.25" y="441.25" textLength="60.25" lengthAdjust="spacingAndGlyphs">#27538</text>
<text class="r" x="598.00" y="460.75" textLength="54.50" lengthAdjust="spacingAndGlyphs">Gasket</text>
<text class="b" x="658.75" y="460.75" textLength="59.75" lengthAdjust="spacingAndGlyphs">#27539</text>
<text class="r" x="597.50" y="481.25" textLength="155.50" lengthAdjust="spacingAndGlyphs">Magnetic w/ Gasket</text>
<text class="b" x="598.75" y="501.25" textLength="56.25" lengthAdjust="spacingAndGlyphs">#27537</text>
</svg>
</body></html>
